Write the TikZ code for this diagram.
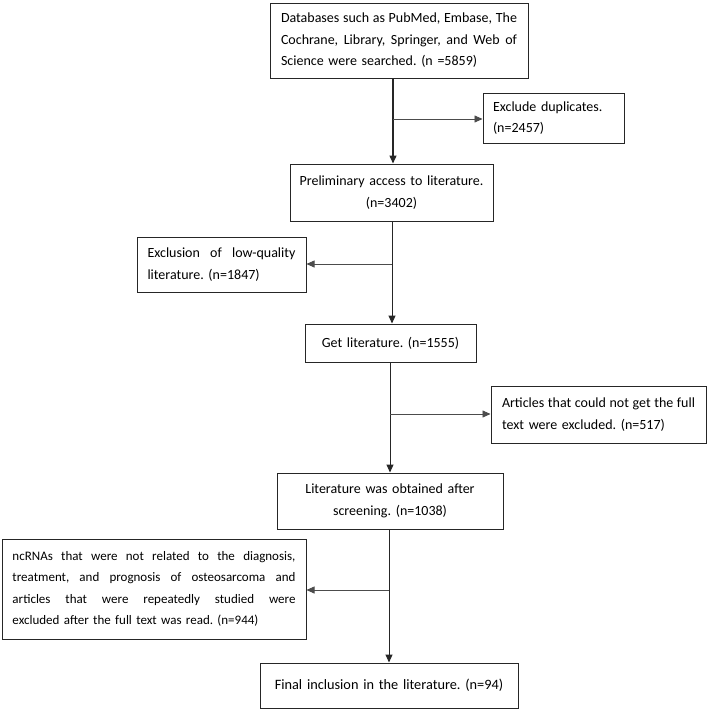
\documentclass[tikz,border=0pt]{standalone}
\usepackage{fontspec}
\setmainfont{Carlito}
\usetikzlibrary{arrows.meta}
\newcommand{\jl}[2]{\leavevmode\hbox to #1{\spaceskip=.22em plus 1fil\relax #2}}
\tikzset{
  box/.style={draw=black!85, line width=1pt, rectangle, inner sep=0pt,
    font=\frenchspacing\fontsize{14}{21.5}\selectfont},
  vline/.style={draw=black!85, line width=1pt, -{Triangle[length=8pt,width=7pt]}},
  bline/.style={draw=black!70, line width=0.7pt, -{Triangle[length=8pt,width=7pt]}}
}
\begin{document}
\begin{tikzpicture}[x=1pt,y=-1pt]
\useasboundingbox[fill=white] (0,0) rectangle (708,710);
\node[box, minimum width=258pt, minimum height=75pt, text width=236pt, align=left] (b1) at (399,40.5)
 {\jl{236pt}{Databases such as PubMed, Embase, The}\\
  \jl{236pt}{Cochrane, Library, Springer, and Web of}\\
  Science were searched. (n =5859)};
\node[box, minimum width=141pt, minimum height=50pt, text width=121pt, align=left] (b2) at (553.5,118)
 {Exclude duplicates.\\ (n=2457)};
\node[box, minimum width=203pt, minimum height=57pt, text width=190pt, align=center] (b3) at (391.5,192.5)
 {Preliminary access to literature.\\ (n=3402)};
\node[box, minimum width=169pt, minimum height=55pt, text width=148pt, align=left] (b4) at (221.5,264.5)
 {\jl{148pt}{Exclusion of low-quality}\\ literature. (n=1847)};
\node[box, minimum width=171pt, minimum height=38pt, text width=160pt, align=center] (b5) at (390.5,343)
 {Get literature. (n=1555)};
\node[box, minimum width=215pt, minimum height=57pt, text width=193pt, align=left] (b6) at (598.5,414.5)
 {\jl{193pt}{Articles that could not get the full}\\ text were excluded. (n=517)};
\node[box, minimum width=226pt, minimum height=56pt, text width=210pt, align=center] (b7) at (390,501)
 {Literature was obtained after\\ screening. (n=1038)};
\node[box, minimum width=304pt, minimum height=100pt, text width=283pt, align=left,
      font=\frenchspacing\fontsize{13}{21.3}\selectfont] (b8) at (154,589)
 {\jl{283pt}{ncRNAs that were not related to the diagnosis,}\\
  \jl{283pt}{treatment, and prognosis of osteosarcoma and}\\
  \jl{283pt}{articles that were repeatedly studied were}\\
  excluded after the full text was read. (n=944)};
\node[box, minimum width=258pt, minimum height=45pt, text width=240pt, align=center,
      font=\frenchspacing\fontsize{14.3}{20}\selectfont] (b9) at (389,685.5)
 {Final inclusion in the literature. (n=94)};
\coordinate (j1) at (393,119);
\coordinate (j2) at (392,264);
\coordinate (j3) at (390,414);
\coordinate (j4) at (389,590);
\draw[vline, line width=1.4pt] (b1.south -| j1) -- (b3.north -| j1);
\draw[bline] (j1) -- (j1 -| b2.west);
\draw[vline] (b3.south -| j2) -- (b5.north -| j2);
\draw[bline] (j2) -- (j2 -| b4.east);
\draw[vline] (b5.south -| j3) -- (b7.north -| j3);
\draw[bline] (j3) -- (j3 -| b6.west);
\draw[vline] (b7.south -| j4) -- (b9.north -| j4);
\draw[bline] (j4) -- (j4 -| b8.east);
\end{tikzpicture}
\end{document}
